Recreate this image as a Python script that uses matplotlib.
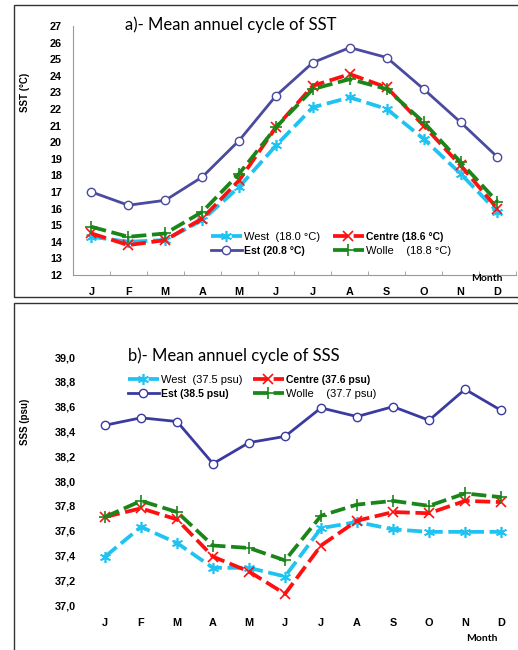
import matplotlib
matplotlib.use("Agg")
import matplotlib.pyplot as plt
from matplotlib.patches import Rectangle
from matplotlib.ticker import FixedLocator

months = ["J", "F", "M", "A", "M", "J", "J", "A", "S", "O", "N", "D"]

# SST (°C)
sst_west = [14.3, 14.0, 14.1, 15.3, 17.3, 19.8, 22.1, 22.7, 22.0, 20.2, 18.1, 15.8]
sst_centre = [14.5, 13.8, 14.1, 15.4, 17.7, 20.9, 23.4, 24.1, 23.3, 21.0, 18.6, 16.0]
sst_est = [17.0, 16.2, 16.5, 17.9, 20.1, 22.8, 24.8, 25.7, 25.1, 23.2, 21.2, 19.1]
sst_wolle = [14.9, 14.3, 14.5, 15.8, 18.1, 20.9, 23.2, 23.8, 23.2, 21.2, 18.8, 16.4]

# SSS (psu)
sss_west = [37.39, 37.63, 37.50, 37.30, 37.30, 37.23, 37.62, 37.67, 37.61, 37.59, 37.59, 37.59]
sss_centre = [37.71, 37.78, 37.69, 37.39, 37.27, 37.09, 37.48, 37.68, 37.75, 37.74, 37.84, 37.83]
sss_est = [38.45, 38.51, 38.48, 38.14, 38.31, 38.36, 38.59, 38.52, 38.60, 38.49, 38.74, 38.57]
sss_wolle = [37.71, 37.84, 37.75, 37.48, 37.46, 37.36, 37.72, 37.81, 37.84, 37.80, 37.90, 37.87]

sst_labels = ["West  (18.0 °C)", "Centre (18.6 °C)", "Est (20.8 °C)", "Wolle    (18.8 °C)"]
sss_labels = ["West  (37.5 psu)", "Centre (37.6 psu)", "Est (38.5 psu)", "Wolle    (37.7 psu)"]

C_WEST = "#1ec3f2"
C_CENTRE = "#ff1010"
C_EST = "#4a4a9e"
C_WOLLE = "#1a861a"

TICK_FONT = dict(family="Liberation Sans", weight="bold", size=7.8)
ASTER = (6, 2, 0)

x = list(range(len(months)))


def draw_series(ax, west, centre, est, wolle, labels, est_color):
    hw, = ax.plot(x, west, color=C_WEST, ls=(0, (4, 1.5)), lw=2.7, marker=ASTER,
                  ms=8, mew=1.2, label=labels[0])
    hc, = ax.plot(x, centre, color=C_CENTRE, ls=(0, (4, 1.5)), lw=2.7, marker="x",
                  ms=7, mew=1.2, label=labels[1])
    he, = ax.plot(x, est, color=est_color, ls="-", lw=2.0, marker="o", ms=6,
                  mfc="white", mec=est_color, mew=1.0, label=labels[2])
    hg, = ax.plot(x, wolle, color=C_WOLLE, ls=(0, (4, 1.5)), lw=2.7, marker="+",
                  ms=8, mew=1.2, label=labels[3])
    return [hw, he, hc, hg]


def style_axis(ax, ylim, yticks, fmt):
    ax.set_xlim(-0.5, 11.5)
    ax.set_ylim(*ylim)
    ax.set_xticks(x)
    ax.set_xticklabels(months, **TICK_FONT)
    ax.set_yticks(yticks)
    ax.set_yticklabels([fmt(v) for v in yticks], **TICK_FONT)
    ax.tick_params(axis="x", length=0, pad=9)
    ax.tick_params(axis="y", length=0, pad=8)
    for s in ["top", "right"]:
        ax.spines[s].set_visible(False)


def fix_legend(leg):
    for t in leg.get_texts():
        if t.get_text().startswith(("West", "Wolle")):
            t.set_fontweight("normal")
            t.set_fontsize(8)


fig = plt.figure(figsize=(5.18, 6.5), dpi=100)

# panel frames
fig.patches.append(Rectangle((0.027, 0.543), 1.0, 0.449, transform=fig.transFigure,
                             fill=False, ec="#333333", lw=1.0))
fig.patches.append(Rectangle((0.027, -0.01), 1.0, 0.544, transform=fig.transFigure,
                             fill=False, ec="#333333", lw=1.0))

# a) SST
ax1 = fig.add_axes([0.141, 0.577, 0.855, 0.383])
h1 = draw_series(ax1, sst_west, sst_centre, sst_est, sst_wolle, sst_labels, C_EST)
style_axis(ax1, (12, 27), list(range(12, 28)), lambda v: f"{v:d}")
for s in ["left", "bottom"]:
    ax1.spines[s].set_color("#999999")
ax1.xaxis.set_minor_locator(FixedLocator([i + 0.5 for i in range(-1, 12)]))
ax1.tick_params(axis="x", which="minor", length=3, direction="in", color="#999999")
ax1.set_ylabel("SST (°C)", family="Liberation Sans", weight="bold", size=7)
ax1.yaxis.set_label_coords(-0.097, 0.735)
ax1.set_title("a)- Mean annuel cycle of SST", family="Lato", size=12, x=0.355,
              y=0.985, pad=0)
leg1 = ax1.legend(handles=h1, ncol=2, loc="lower left", bbox_to_anchor=(0.29, 0.04),
                  frameon=False, handlelength=3.0, columnspacing=1.2,
                  handletextpad=0.2, labelspacing=0.35,
                  prop=dict(family="Liberation Sans", weight="bold", size=7.5))
fix_legend(leg1)
fig.text(0.94, 0.567, "Month", family="Lato", weight="bold", size=7.5, ha="center")

# b) SSS
ax2 = fig.add_axes([0.168, 0.0692, 0.834, 0.3815])
h2 = draw_series(ax2, sss_west, sss_centre, sss_est, sss_wolle, sss_labels, "#3a3aa0")
yt = [37.0 + 0.2 * i for i in range(11)]
style_axis(ax2, (37.0, 39.0), yt, lambda v: f"{v:.1f}".replace(".", ","))
for s in ["left", "bottom"]:
    ax2.spines[s].set_visible(False)
ax2.set_ylabel("SSS (psu)", family="Liberation Sans", weight="bold", size=7)
ax2.yaxis.set_label_coords(-0.132, 0.738)
ax2.set_title("b)- Mean annuel cycle of SSS", family="Lato", size=12, x=0.34,
              y=0.985, pad=0)
leg2 = ax2.legend(handles=h2, ncol=2, loc="upper left", bbox_to_anchor=(0.072, 0.965),
                  frameon=False, handlelength=3.0, columnspacing=1.0,
                  handletextpad=0.2, labelspacing=0.35,
                  prop=dict(family="Liberation Sans", weight="bold", size=7.5))
fix_legend(leg2)
fig.text(0.93, 0.014, "Month", family="Lato", weight="bold", size=7.5, ha="center")

fig.savefig("out.png", dpi=100)
